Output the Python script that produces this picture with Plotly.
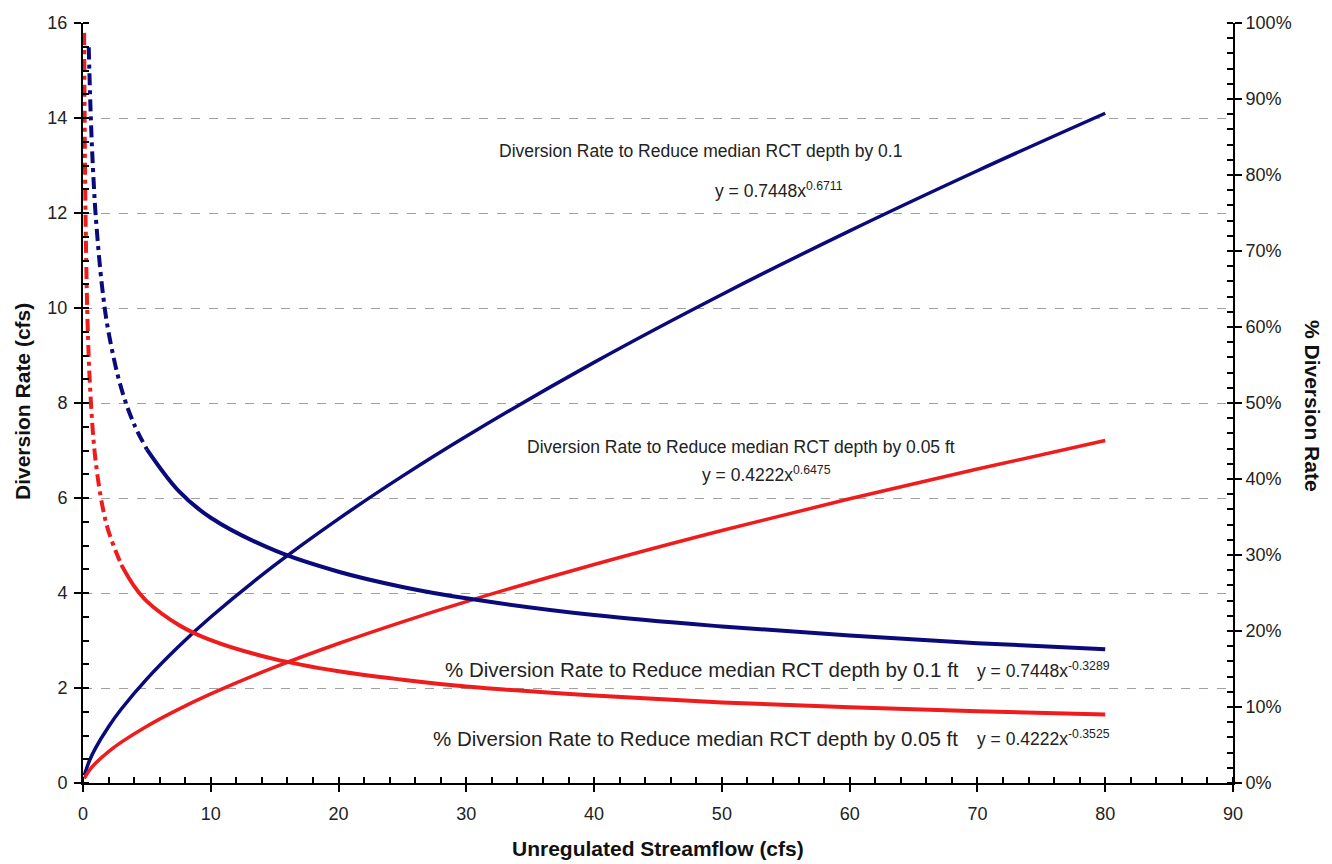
import plotly.graph_objects as go

# ---- data ----
x_rate = [0.1, 0.5, 1, 2, 3, 5, 7.5, 10, 15, 20, 25, 30, 40, 50, 60, 70, 80]
rate_01 = [0.159, 0.468, 0.745, 1.186, 1.557, 2.193, 2.880, 3.494, 4.585, 5.561,
           6.460, 7.300, 8.855, 10.285, 11.624, 12.890, 14.10]
rate_005 = [0.095, 0.270, 0.422, 0.661, 0.860, 1.197, 1.556, 1.875, 2.438, 2.937,
            3.394, 3.819, 4.601, 5.317, 5.983, 6.610, 7.21]

x_pct_01_steep = [0.45, 0.5, 0.6, 0.7, 0.8, 1, 1.5, 2, 3, 4, 5]
pct_01_steep = [0.968, 0.936, 0.881, 0.838, 0.802, 0.745, 0.652, 0.593, 0.519, 0.472, 0.439]
x_pct_01 = [5, 7.5, 10, 15, 20, 25, 30, 40, 50, 60, 70, 80]
pct_01 = [0.439, 0.384, 0.349, 0.306, 0.278, 0.258, 0.243, 0.221, 0.206, 0.194, 0.184, 0.176]

x_pct_005_steep = [0.09, 0.1, 0.12, 0.15, 0.2, 0.3, 0.4, 0.5, 0.75, 1, 1.5, 2, 3]
pct_005_steep = [0.987, 0.951, 0.892, 0.824, 0.745, 0.645, 0.583, 0.539, 0.467, 0.422,
                 0.366, 0.331, 0.287]
x_pct_005 = [3, 4, 5, 7.5, 10, 15, 20, 25, 30, 40, 50, 60, 70, 80]
pct_005 = [0.287, 0.259, 0.239, 0.208, 0.188, 0.163, 0.147, 0.136, 0.127, 0.115,
           0.106, 0.0997, 0.0944, 0.0901]

x_ticks = [0, 10, 20, 30, 40, 50, 60, 70, 80, 90]
y_ticks = [0, 2, 4, 6, 8, 10, 12, 14, 16]

NAVY = "#0a0a7a"
RED = "#ee1c1c"
FONT = "Liberation Sans, Arial, sans-serif"

fig = go.Figure()

fig.add_trace(go.Scatter(x=x_rate, y=rate_01, mode="lines", line=dict(color=NAVY, width=3.5, shape="spline"),
                         xaxis="x", yaxis="y", showlegend=False))
fig.add_trace(go.Scatter(x=x_rate, y=rate_005, mode="lines", line=dict(color=RED, width=3.5, shape="spline"),
                         xaxis="x", yaxis="y", showlegend=False))
fig.add_trace(go.Scatter(x=x_pct_01_steep, y=pct_01_steep, mode="lines",
                         line=dict(color=NAVY, width=4, shape="spline", dash="12px,5px,4px,5px"),
                         xaxis="x", yaxis="y2", showlegend=False))
fig.add_trace(go.Scatter(x=x_pct_01, y=pct_01, mode="lines", line=dict(color=NAVY, width=4, shape="spline"),
                         xaxis="x", yaxis="y2", showlegend=False))
fig.add_trace(go.Scatter(x=x_pct_005_steep, y=pct_005_steep, mode="lines",
                         line=dict(color=RED, width=4, shape="spline", dash="12px,5px,4px,5px"),
                         xaxis="x", yaxis="y2", showlegend=False))
fig.add_trace(go.Scatter(x=x_pct_005, y=pct_005, mode="lines", line=dict(color=RED, width=4, shape="spline"),
                         xaxis="x", yaxis="y2", showlegend=False))

tickfont = dict(family=FONT, size=18, color="#222")
titlefont = dict(family=FONT, size=21, color="#111")

# page body has an 8px default margin, so the figure is sized/offset to compensate
fig.update_layout(
    width=1324, height=856,
    margin=dict(l=75, r=99, t=15, b=81),
    paper_bgcolor="white", plot_bgcolor="white",
    font=dict(family=FONT),
    xaxis=dict(range=[0, 90], tickvals=x_ticks, ticks="outside", ticklen=7, tickwidth=2,
               tickcolor="black", showline=True, linecolor="black", linewidth=2, showgrid=False,
               zeroline=False, tickfont=tickfont, automargin=False, ticklabelstandoff=6,
               minor=dict(ticks="inside", ticklen=6, tickwidth=2, dtick=2, tickcolor="black", showgrid=False)),
    yaxis=dict(range=[0, 16], tickvals=y_ticks, ticks="outside", ticklen=7, tickwidth=2, tickcolor="black",
               showline=True, linecolor="black", linewidth=2, showgrid=True, gridcolor="#a0a0a0",
               griddash="dash", gridwidth=1.2, zeroline=False, tickfont=tickfont, automargin=False,
               ticklabelstandoff=3,
               minor=dict(ticks="inside", ticklen=6, tickwidth=2, dtick=0.5, tickcolor="black", showgrid=False)),
    yaxis2=dict(range=[0, 1], overlaying="y", side="right", anchor="x", dtick=0.1, tickformat=".0%",
                ticks="outside", ticklen=7, tickwidth=2, tickcolor="black", showline=True, linecolor="black",
                linewidth=2, showgrid=False, zeroline=False, tickfont=tickfont, automargin=False,
                minor=dict(ticks="inside", ticklen=6, tickwidth=2, dtick=0.02, tickcolor="black", showgrid=False)),
    xaxis2=dict(range=[0, 90], overlaying="x", anchor="y", side="bottom", tickvals=x_ticks, ticks="inside",
                ticklen=6, tickwidth=2, tickcolor="black", showticklabels=False, showgrid=False,
                zeroline=False, showline=False, automargin=False),
    yaxis3=dict(range=[0, 16], overlaying="y", anchor="x", side="left", tickvals=y_ticks, ticks="inside",
                ticklen=6, tickwidth=2, tickcolor="black", showticklabels=False, showgrid=False,
                zeroline=False, showline=False, automargin=False),
    yaxis4=dict(range=[0, 1], overlaying="y", anchor="x", side="right", dtick=0.1, ticks="inside",
                ticklen=6, tickwidth=2, tickcolor="black", showticklabels=False, showgrid=False,
                zeroline=False, showline=False, automargin=False),
)

# invisible helper traces so the tick overlay axes are drawn
fig.add_trace(go.Scatter(x=[None], y=[None], xaxis="x2", yaxis="y3", showlegend=False, hoverinfo="skip"))
fig.add_trace(go.Scatter(x=[None], y=[None], xaxis="x", yaxis="y4", showlegend=False, hoverinfo="skip"))

afont = dict(family=FONT, size=17.5, color="#222")
bfont = dict(family=FONT, size=20.5, color="#222")
annots = [
    dict(x=0.537, y=0.832, text="Diversion Rate to Reduce median RCT depth by 0.1", xanchor="center", f=afont),
    dict(x=0.605, y=0.780, text="y = 0.7448x<sup>0.6711</sup>", xanchor="center", f=afont),
    dict(x=0.572, y=0.442, text="Diversion Rate to Reduce median RCT depth by 0.05 ft", xanchor="center", f=afont),
    dict(x=0.594, y=0.407, text="y = 0.4222x<sup>0.6475</sup>", xanchor="center", f=afont),
    dict(x=0.313, y=0.149, text="% Diversion Rate to Reduce median RCT depth by 0.1 ft", xanchor="left", f=bfont),
    dict(x=0.776, y=0.149, text="y = 0.7448x<sup>-0.3289</sup>", xanchor="left", f=afont),
    dict(x=0.303, y=0.059, text="% Diversion Rate to Reduce median RCT depth by 0.05 ft", xanchor="left", f=bfont),
    dict(x=0.776, y=0.059, text="y = 0.4222x<sup>-0.3525</sup>", xanchor="left", f=afont),
]
for a in annots:
    fig.add_annotation(xref="paper", yref="paper", x=a["x"], y=a["y"], text=a["text"],
                       xanchor=a["xanchor"], yanchor="middle", showarrow=False, font=a["f"])

# axis titles (positions relative to the plot area: 1150 x 760 px)
fig.add_annotation(xref="paper", yref="paper", x=0.5, y=(783 - 848) / 760,
                   text="<b>Unregulated Streamflow (cfs)</b>", showarrow=False, font=titlefont,
                   xanchor="center", yanchor="middle")
fig.add_annotation(xref="paper", yref="paper", x=(22 - 83) / 1150, y=(783 - 402) / 760,
                   text="<b>Diversion Rate (cfs)</b>", textangle=-90, showarrow=False, font=titlefont,
                   xanchor="center", yanchor="middle")
fig.add_annotation(xref="paper", yref="paper", x=1.0 + (1313 - 1233) / 1150, y=(783 - 406) / 760,
                   text="<b>% Diversion Rate</b>", textangle=90, showarrow=False, font=titlefont,
                   xanchor="center", yanchor="middle")

fig.write_html("out.html")
